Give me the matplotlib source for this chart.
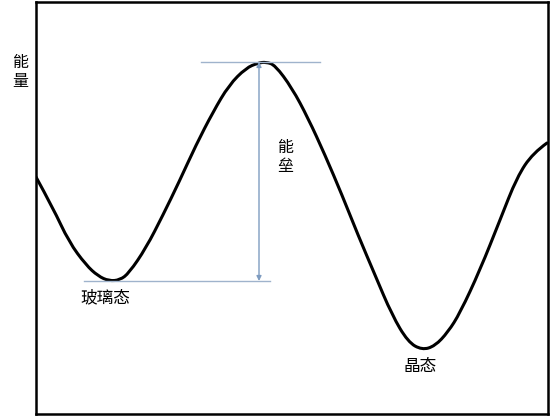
import matplotlib.pyplot as plt
from matplotlib.path import Path
from matplotlib.patches import PathPatch

plt.rcParams['font.family'] = ['Noto Sans CJK SC', 'DejaVu Sans']

# curve points (x: reaction coordinate, y: energy)
path_x = [0, 17, 33, 50, 62, 73, 84, 93, 110, 127, 143, 160, 177, 193, 210,
          222, 230, 239, 256, 272, 289, 306, 322, 339, 356, 372, 386, 399,
          412, 424, 444, 464, 481, 497, 511]
path_y = [237, 206, 172, 149, 138, 133, 134, 141, 166, 199, 232, 269, 302,
          329, 346, 351, 352, 349, 326, 296, 259, 219, 179, 139, 99, 72, 64,
          68, 82, 101, 144, 194, 237, 261, 271]

glass_y = 133
peak_y = 352
peak_x = 223

fig = plt.figure(figsize=(5.5, 4.16), dpi=100)
ax = fig.add_axes([36 / 550, 2 / 416, 512 / 550, 412 / 416])
ax.set_xlim(0, 512)
ax.set_ylim(0, 412)

# smooth the polyline: points act as quadratic bezier controls
pts = list(zip(path_x, path_y))
verts = [pts[0]]
codes = [Path.MOVETO]
for i in range(1, len(pts) - 1):
    nxt = pts[i + 1] if i == len(pts) - 2 else (
        (pts[i][0] + pts[i + 1][0]) / 2, (pts[i][1] + pts[i + 1][1]) / 2)
    verts += [pts[i], nxt]
    codes += [Path.CURVE3, Path.CURVE3]
ax.add_patch(PathPatch(Path(verts, codes), fill=False, ec='black', lw=2.2,
                       capstyle='round'))

line_col = '#9fb3cc'
ax.plot([165, 284], [peak_y, peak_y], color=line_col, lw=1)
ax.plot([48, 234], [glass_y, glass_y], color=line_col, lw=1)
ax.annotate('', xy=(peak_x, peak_y), xytext=(peak_x, glass_y),
            arrowprops=dict(arrowstyle='<|-|>', color='#7f9cc0', lw=1,
                            mutation_scale=7, shrinkA=0, shrinkB=0))

ax.text(249, 257, '能\n垒', fontsize=11.5, ha='center', va='center', linespacing=1.1)
ax.text(69, 116, '玻璃态', fontsize=12, ha='center', va='center')
ax.text(384, 47, '晶态', fontsize=12, ha='center', va='center')
fig.text(20 / 550, 1 - 72 / 416, '能\n量', fontsize=11.5, ha='center', va='center',
         linespacing=1.1)

ax.set_xticks([])
ax.set_yticks([])
for s in ax.spines.values():
    s.set_linewidth(1.8)

fig.savefig('out.png', dpi=100)
